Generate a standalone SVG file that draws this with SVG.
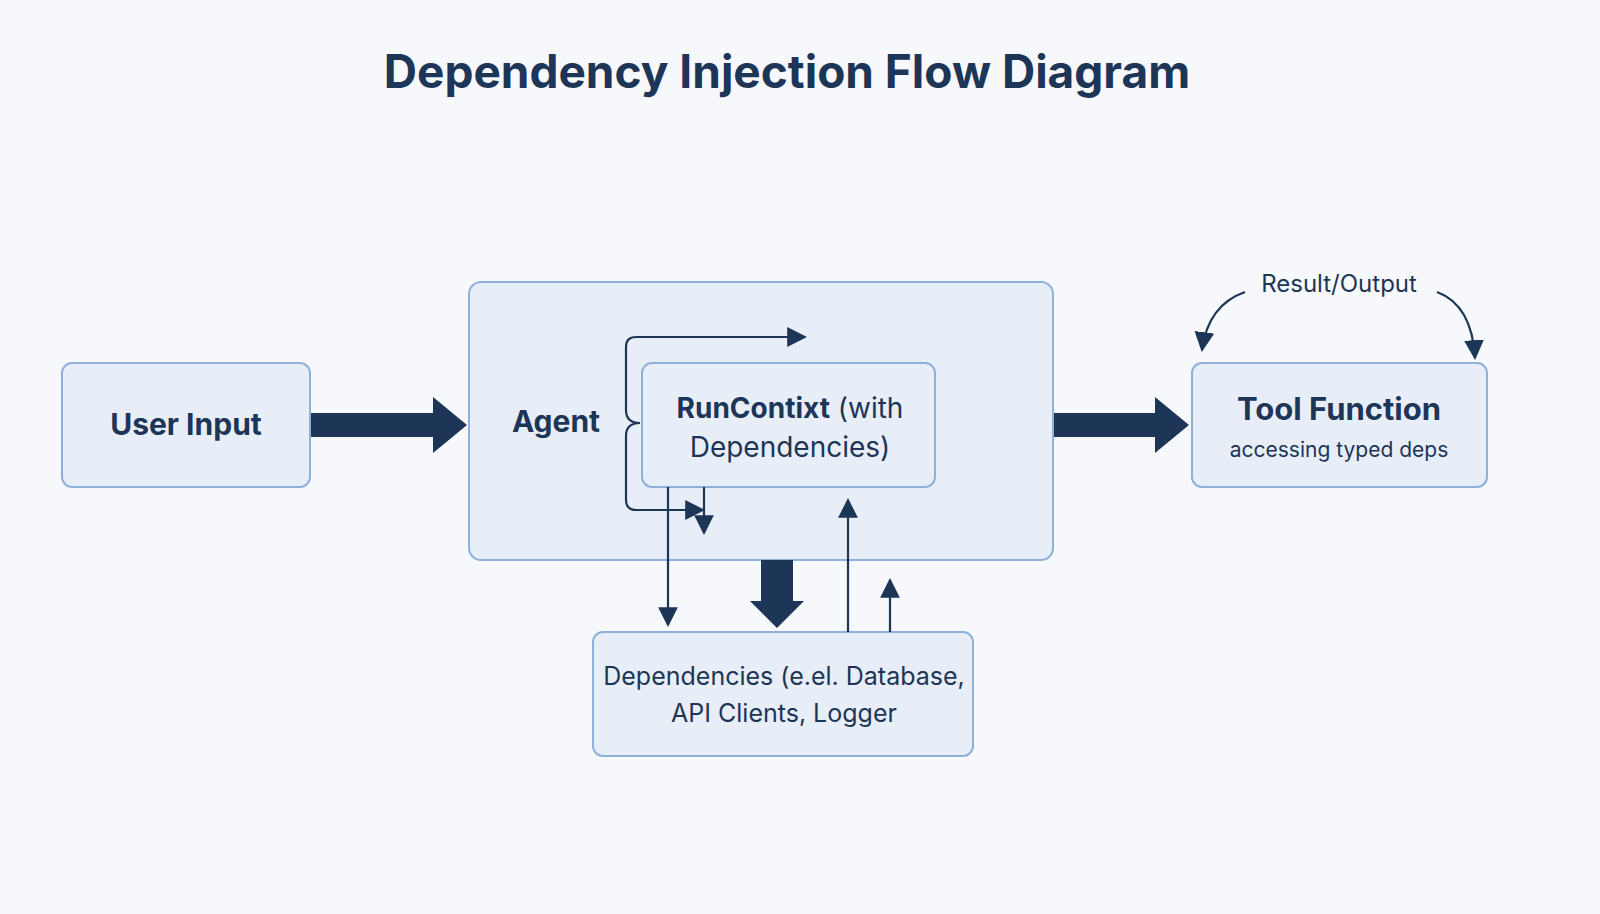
<svg xmlns="http://www.w3.org/2000/svg" width="1600" height="914" viewBox="0 0 1600 914">
<style>
.box{fill:#e8eef8;stroke:#8fb0da;stroke-width:2}
.t{font-family:Inter,"Liberation Sans",sans-serif;fill:#1d3557;text-anchor:middle}
.b{font-weight:bold}
.ln{stroke:#1d3557;stroke-width:2.2;fill:none}
.fat{fill:#1d3557}
</style>
<defs>
<marker id="ah" viewBox="0 0 10 10" refX="9" refY="5" markerWidth="7" markerHeight="7" markerUnits="userSpaceOnUse" orient="auto"><path d="M0,0L10,5L0,10z" fill="#1d3557"/></marker>
<marker id="ah2" viewBox="0 0 10 10" refX="9" refY="5" markerWidth="9" markerHeight="9" orient="auto"><path d="M0,0L10,5L0,10z" fill="#1d3557"/></marker>
</defs>
<rect width="1600" height="914" fill="#f6f8fc"/>
<text class="t b" x="787" y="88" font-size="46">Dependency Injection Flow Diagram</text>
<g id="user-input"><rect class="box" x="62" y="363" width="248" height="124" rx="10"/><text class="t b" x="186" y="435" font-size="30">User Input</text></g>
<g id="agent"><rect class="box" x="469" y="282" width="584" height="278" rx="12"/><text class="t b" x="556" y="432" font-size="30">Agent</text></g>
<g id="runcontext"><rect class="box" x="642" y="363" width="293" height="124" rx="10"/>
<text class="t" x="790" y="418" font-size="28"><tspan font-weight="bold">RunContixt</tspan> (with</text>
<text class="t" x="790" y="457" font-size="28">Dependencies)</text></g>
<g id="dependencies"><rect class="box" x="593" y="632" width="380" height="124" rx="10"/>
<text class="t" x="784" y="685" font-size="25">Dependencies (e.el. Database,</text>
<text class="t" x="784" y="722" font-size="25">API Clients, Logger</text></g>
<g id="tool-function"><rect class="box" x="1192" y="363" width="295" height="124" rx="10"/>
<text class="t b" x="1339" y="420" font-size="31">Tool Function</text>
<text class="t" x="1339" y="457" font-size="21">accessing typed deps</text></g>
<text class="t" x="1339" y="292" font-size="24">Result/Output</text>
<g id="connectors">
<path class="fat" d="M311,413H433V397L467,425L433,453V437H311z"/>
<path class="fat" d="M1054,413H1155V397L1189,425L1155,453V437H1054z"/>
<path class="fat" d="M761,560H793V601H804L777,628L750,601H761z"/>
<path class="ln" d="M640,423Q626,423 626,410V347Q626,337 636,337H805" marker-end="url(#ah2)"/>
<path class="ln" d="M640,423Q626,423 626,436V500Q626,510 636,510H703" marker-end="url(#ah2)"/>
<path class="ln" d="M704,487V533" marker-end="url(#ah2)"/>
<path class="ln" d="M668,487V625" marker-end="url(#ah2)"/>
<path class="ln" d="M848,632V500" marker-end="url(#ah2)"/>
<path class="ln" d="M890,632V580" marker-end="url(#ah2)"/>
<path class="ln" d="M1245,292Q1208,305 1202,350" marker-end="url(#ah2)"/>
<path class="ln" d="M1437,292Q1472,305 1475,358" marker-end="url(#ah2)"/>
</g>
</svg>
